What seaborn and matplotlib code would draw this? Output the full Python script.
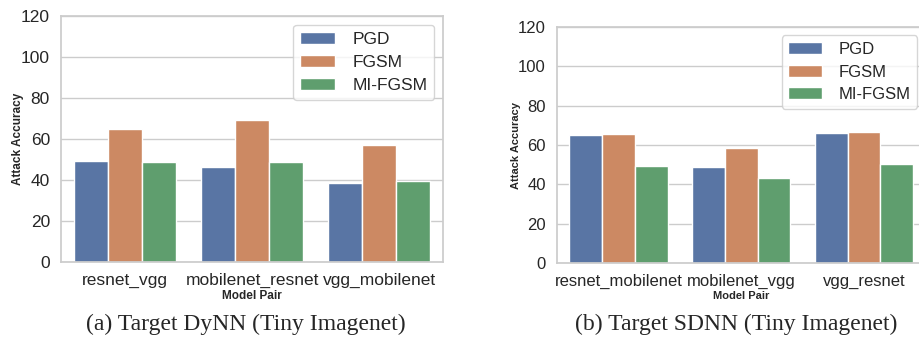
import numpy as np
import matplotlib
matplotlib.use("Agg")
import matplotlib.pyplot as plt
import pandas as pd
import seaborn as sns

sns.set_theme(style="whitegrid", palette="deep")
plt.rcParams['font.family'] = ['Liberation Sans', 'DejaVu Sans']

# data
methods = ["PGD", "FGSM", "MI-FGSM"]

pairs_dynn = ["resnet_vgg", "mobilenet_resnet", "vgg_mobilenet"]
pgd_dynn = [49.4, 46.5, 38.4]
fgsm_dynn = [64.7, 69.4, 57.2]
mifgsm_dynn = [48.9, 48.9, 39.3]

pairs_sdnn = ["resnet_mobilenet", "mobilenet_vgg", "vgg_resnet"]
pgd_sdnn = [65.3, 48.9, 66.3]
fgsm_sdnn = [65.8, 58.7, 66.8]
mifgsm_sdnn = [49.3, 43.2, 50.5]

yticks = [0, 20, 40, 60, 80, 100, 120]


def to_long(pairs, pgd, fgsm, mifgsm):
    rows = []
    for vals, m in zip([pgd, fgsm, mifgsm], methods):
        for p, v in zip(pairs, vals):
            rows.append((p, m, v))
    return pd.DataFrame(rows, columns=["Model Pair", "Attack", "Attack Accuracy"])


def draw(ax, df, pairs, fs, label_fs):
    sns.barplot(data=df, x="Model Pair", y="Attack Accuracy", hue="Attack",
                order=pairs, hue_order=methods, ax=ax, errorbar=None,
                edgecolor="white", linewidth=1)
    ax.set_ylim(0, 120)
    ax.set_yticks(yticks)
    ax.tick_params(axis="both", labelsize=fs, pad=2)
    ax.set_xlabel("Model Pair", fontsize=label_fs, fontweight="bold", labelpad=1)
    ax.set_ylabel("Attack Accuracy", fontsize=label_fs, fontweight="bold", labelpad=-2)
    ax.legend(loc="upper right", fontsize=fs, title=None, frameon=True,
              labelspacing=0.45, handletextpad=1.0)


fig = plt.figure(figsize=(9.2, 3.42), dpi=100)
ax1 = fig.add_axes([0.0663, 0.2339, 0.4152, 0.7193])
ax2 = fig.add_axes([0.6054, 0.231, 0.4005, 0.690])

draw(ax1, to_long(pairs_dynn, pgd_dynn, fgsm_dynn, mifgsm_dynn), pairs_dynn, 12.5, 8.5)
draw(ax2, to_long(pairs_sdnn, pgd_sdnn, fgsm_sdnn, mifgsm_sdnn), pairs_sdnn, 12, 8)

fig.text(0.267, 0.05, "(a) Target DyNN (Tiny Imagenet)", ha="center", va="center",
         fontsize=17, family=["Liberation Serif", "DejaVu Serif"])
fig.text(0.80, 0.05, "(b) Target SDNN (Tiny Imagenet)", ha="center", va="center",
         fontsize=17, family=["Liberation Serif", "DejaVu Serif"])

fig.savefig("out.png", dpi=100)
